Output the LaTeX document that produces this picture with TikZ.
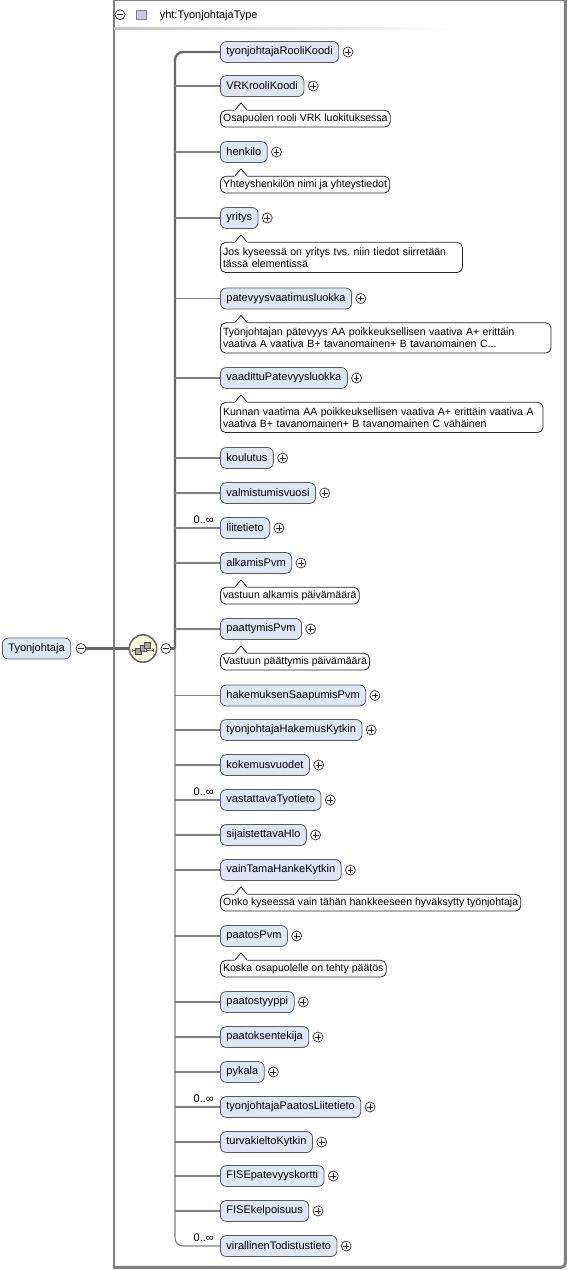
\documentclass[tikz,border=0pt]{standalone}
\usepackage{fontspec}
\setmainfont{Liberation Sans}
\usepackage{tikz}
\definecolor{elemfill}{RGB}{220,230,246}
\definecolor{elemline}{RGB}{90,90,90}
\definecolor{busgray}{RGB}{105,105,105}
\definecolor{linegray}{RGB}{128,128,128}
\definecolor{seqfill}{RGB}{255,255,222}
\definecolor{typefill}{RGB}{205,195,235}
\usetikzlibrary{positioning}
\frenchspacing

\begin{document}
\begin{tikzpicture}[x=0.75pt, y=-0.75pt,
	elem/.style={rectangle, draw=elemline, fill=elemfill, rounded corners=4.5pt, anchor=west, minimum height=15.75pt, inner xsep=4.5pt, inner ysep=0pt, line width=0.6pt, font=\fontsize{8.25}{10}\selectfont},
	note/.style={rectangle, draw=black!85, fill=white, rounded corners=4pt, inner xsep=2pt, inner ysep=2.6pt, line width=0.6pt, align=left, font=\fontsize{7.9}{9.3}\selectfont},
	widenote/.style={note, inner ysep=3.8pt},
	button/.style={circle, draw=black!85, fill=white, line width=0.5pt, minimum size=7.5pt, inner sep=0pt},
	expand/.style={button, path picture={\draw[line width=0.5pt] ([xshift=-2.2pt]path picture bounding box.center) -- ([xshift=2.2pt]path picture bounding box.center) ([yshift=-2.2pt]path picture bounding box.center) -- ([yshift=2.2pt]path picture bounding box.center);}},
	collapse/.style={button, path picture={\draw[line width=0.5pt] ([xshift=-2.2pt]path picture bounding box.center) -- ([xshift=2.2pt]path picture bounding box.center);}},
	mult/.style={anchor=base east, inner sep=0pt, font=\fontsize{8.25}{9}\selectfont},
	sequence/.style={circle, draw=busgray, line width=1.2pt, fill=seqfill, minimum size=20.5pt, inner sep=0pt, path picture={
		\draw[line width=0.6pt] ([xshift=-8pt,yshift=-1.5pt]path picture bounding box.center) -- ([xshift=8pt,yshift=-1.5pt]path picture bounding box.center);
		\draw[line width=1pt] ([xshift=-8pt,yshift=-2.7pt]path picture bounding box.center) -- ([xshift=-8pt,yshift=-0.3pt]path picture bounding box.center);
		\draw[line width=1pt] ([xshift=8pt,yshift=-2.7pt]path picture bounding box.center) -- ([xshift=8pt,yshift=-0.3pt]path picture bounding box.center);
		\filldraw[fill=gray!70, draw=black!70, line width=0.4pt] ([xshift=-5.5pt,yshift=-4.3pt]path picture bounding box.center) rectangle ++(4.5pt,4.5pt);
		\filldraw[fill=gray!70, draw=black!70, line width=0.4pt] ([xshift=-2.4pt,yshift=-2pt]path picture bounding box.center) rectangle ++(4.5pt,4.5pt);
		\filldraw[fill=gray!70, draw=black!70, line width=0.4pt] ([xshift=0.7pt,yshift=0.3pt]path picture bounding box.center) rectangle ++(4.5pt,4.5pt);}},
	typeicon/.style={rectangle, draw=gray, fill=typefill, minimum size=7.2pt, inner sep=0pt, line width=0.4pt},
	busline/.style={draw=busgray, line width=1.8pt},
	conn/.style={draw=linegray, line width=0.8pt}]
	\useasboundingbox (0,0) rectangle (568,1270);

	% type box
	\draw[linegray, line width=1pt] (113.5,0.7) -- (565,0.7);
	\draw[linegray, line width=1.5pt] (114,0) -- (114,1268);
	\draw[linegray, line width=2.2pt, rounded corners=3pt] (565.3,0) -- (565.3,1267.3) -- (113,1267.3);
	\shade[left color=gray!45, right color=white] (114,28) rectangle (458,30);
	\node[collapse] (tminus) at (120,14.7) {};
	\node[typeicon] (ticon) at (141.5,14.7) {};
	\node[anchor=base west, inner sep=0pt, font=\fontsize{8.25}{10}\selectfont] (tname) at (159.5,18.5) {yht:TyonjohtajaType};

	\node[elem] (root) at (2,648.5) {Tyonjohtaja};
	\node[collapse] (rootminus) at (81,648.5) {};
	\node[sequence] (seq) at (143,648.5) {};
	\node[collapse] (seqminus) at (166,648.5) {};
	\coordinate (bus) at (175,648.5);

	\node[elem] (e1) at (220,52) {tyonjohtajaRooliKoodi}; \node[expand, right=2.6pt of e1] (p1) {};
	\node[elem] (e2) at (220,86) {VRKrooliKoodi}; \node[expand, right=2.6pt of e2] (p2) {};
	\node[elem] (e3) at (220,152) {henkilo}; \node[expand, right=2.6pt of e3] (p3) {};
	\node[elem] (e4) at (220,218) {yritys}; \node[expand, right=2.6pt of e4] (p4) {};
	\node[elem] (e5) at (220,298.5) {patevyysvaatimusluokka}; \node[expand, right=2.6pt of e5] (p5) {};
	\node[elem] (e6) at (220,378) {vaadittuPatevyysluokka}; \node[expand, right=2.6pt of e6] (p6) {};
	\node[elem] (e7) at (220,458) {koulutus}; \node[expand, right=2.6pt of e7] (p7) {};
	\node[elem] (e8) at (220,493) {valmistumisvuosi}; \node[expand, right=2.6pt of e8] (p8) {};
	\node[elem] (e9) at (220,528) {liitetieto}; \node[expand, right=2.6pt of e9] (p9) {};
	\node[elem] (e10) at (220,563) {alkamisPvm}; \node[expand, right=2.6pt of e10] (p10) {};
	\node[elem] (e11) at (220,629) {paattymisPvm}; \node[expand, right=2.6pt of e11] (p11) {};
	\node[elem] (e12) at (220,695.5) {hakemuksenSaapumisPvm}; \node[expand, right=2.6pt of e12] (p12) {};
	\node[elem] (e13) at (220,730) {tyonjohtajaHakemusKytkin}; \node[expand, right=2.6pt of e13] (p13) {};
	\node[elem] (e14) at (220,765) {kokemusvuodet}; \node[expand, right=2.6pt of e14] (p14) {};
	\node[elem] (e15) at (220,800) {vastattavaTyotieto}; \node[expand, right=2.6pt of e15] (p15) {};
	\node[elem] (e16) at (220,835) {sijaistettavaHlo}; \node[expand, right=2.6pt of e16] (p16) {};
	\node[elem] (e17) at (220,870) {vainTamaHankeKytkin}; \node[expand, right=2.6pt of e17] (p17) {};
	\node[elem] (e18) at (220,936) {paatosPvm}; \node[expand, right=2.6pt of e18] (p18) {};
	\node[elem] (e19) at (220,1002) {paatostyyppi}; \node[expand, right=2.6pt of e19] (p19) {};
	\node[elem] (e20) at (220,1037) {paatoksentekija}; \node[expand, right=2.6pt of e20] (p20) {};
	\node[elem] (e21) at (220,1072) {pykala}; \node[expand, right=2.6pt of e21] (p21) {};
	\node[elem] (e22) at (220,1107) {tyonjohtajaPaatosLiitetieto}; \node[expand, right=2.6pt of e22] (p22) {};
	\node[elem] (e23) at (220,1142) {turvakieltoKytkin}; \node[expand, right=2.6pt of e23] (p23) {};
	\node[elem] (e24) at (220,1176) {FISEpatevyyskortti}; \node[expand, right=2.6pt of e24] (p24) {};
	\node[elem] (e25) at (220,1211) {FISEkelpoisuus}; \node[expand, right=2.6pt of e25] (p25) {};
	\node[elem] (e26) at (220,1246) {virallinenTodistustieto}; \node[expand, right=2.6pt of e26] (p26) {};

	\node[mult] (m9) at (214,523.5) {0..∞};
	\node[mult] (m15) at (214,795.5) {0..∞};
	\node[mult] (m22) at (214,1102.5) {0..∞};
	\node[mult] (m26) at (214,1241.5) {0..∞};

	\node[note, below=9.75pt of e2.south west, anchor=north west] (c2) {Osapuolen rooli VRK luokituksessa};
	\node[note, below=9.75pt of e3.south west, anchor=north west] (c3) {Yhteyshenkilön nimi ja yhteystiedot};
	\node[widenote, text width=177.5pt, below=9.75pt of e4.south west, anchor=north west] (c4) {Jos kyseessä on yritys tvs. niin tiedot siirretään\\tässä elementissä};
	\node[widenote, text width=244pt, below=9.75pt of e5.south west, anchor=north west] (c5) {Työnjohtajan pätevyys AA poikkeuksellisen vaativa A+ erittäin\\vaativa A vaativa B+ tavanomainen+ B tavanomainen C...};
	\node[widenote, text width=238pt, below=9.75pt of e6.south west, anchor=north west] (c6) {Kunnan vaatima AA poikkeuksellisen vaativa A+ erittäin vaativa A\\vaativa B+ tavanomainen+ B tavanomainen C vähäinen};
	\node[note, below=9.75pt of e10.south west, anchor=north west] (c10) {vastuun alkamis päivämäärä};
	\node[note, below=9.75pt of e11.south west, anchor=north west] (c11) {Vastuun päättymis päivämäärä};
	\node[note, below=9.75pt of e17.south west, anchor=north west] (c17) {Onko kyseessä vain tähän hankkeeseen hyväksytty työnjohtaja};
	\node[note, below=9.75pt of e18.south west, anchor=north west] (c18) {Koska osapuolelle on tehty päätös};
	\foreach \c in {c2,c3,c4,c5,c6,c10,c11,c17,c18} {
		\fill[white] ([shift={(14.5,0.9)}]\c.north west) -- ++(6.5,-7.9) -- ++(6.5,7.9) -- cycle;
		\draw[black!85, line width=0.6pt] ([shift={(15,0)}]\c.north west) -- ++(6,-7) -- ++(6,7);
	}

	\draw[busline] (rootminus) -- (seq);
	\draw[busline] (seqminus) -- (bus);
	\draw[conn, rounded corners=6pt] (bus) |- (e26.west);
	\draw[busline, rounded corners=6pt] (bus) |- (e1.west);
	\foreach \i in {2,...,25}
		\draw[conn] (e\i.west) -- (e\i.west -| bus);
\end{tikzpicture}
\end{document}
